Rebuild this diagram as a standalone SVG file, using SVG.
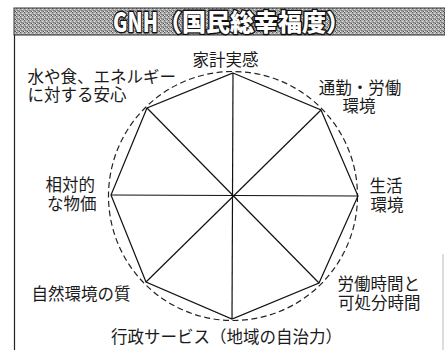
<svg xmlns="http://www.w3.org/2000/svg" width="445" height="350" viewBox="0 0 445 350">
<defs>
<pattern id="halftone" width="4" height="4" patternUnits="userSpaceOnUse">
<rect width="4" height="4" fill="#a8a8a8"/>
<rect x="0" y="0" width="1" height="1" fill="#5e5e5e"/>
<rect x="2" y="1" width="1" height="1" fill="#e2e2e2"/>
<rect x="1" y="2" width="1" height="1" fill="#747474"/>
<rect x="3" y="3" width="1" height="1" fill="#4e4e4e"/>
<rect x="3" y="0" width="1" height="1" fill="#d0d0d0"/>
<rect x="0" y="3" width="1" height="1" fill="#e6e6e6"/>
<rect x="2" y="2" width="1" height="1" fill="#8a8a8a"/>
</pattern>
<style>
.lbl{font-family:"Noto Sans CJK JP","Noto Sans",sans-serif;font-size:16.5px;fill:#1a1a1a;}
.mid{text-anchor:middle;}
.ttl{font-family:"Noto Sans CJK JP","Noto Sans",sans-serif;font-weight:900;fill:#ffffff;stroke:#111;stroke-width:2.8;paint-order:stroke;stroke-linejoin:round;}
.ln{fill:none;stroke:#111;stroke-width:1.2;}
.dash{fill:none;stroke:#222;stroke-width:1.2;stroke-dasharray:6 3.5;}
</style>
</defs>
<rect width="445" height="350" fill="#ffffff"/>
<g id="frame">
<rect x="14" y="8" width="431" height="27" fill="url(#halftone)" stroke="#333" stroke-width="1"/>
<line x1="14.5" y1="35" x2="14.5" y2="350" stroke="#222" stroke-width="1.2"/>
<line x1="443" y1="254" x2="443" y2="350" stroke="#bbb" stroke-width="1"/>
</g>
<g id="title">
<text class="ttl" x="113" y="32" font-size="26" textLength="45" lengthAdjust="spacingAndGlyphs">GNH</text>
<text class="ttl" x="158" y="31" font-size="24">（国民総幸福度）</text>
</g>
<g id="connectors">
<circle class="dash" cx="233" cy="196" r="124.5"/>
<polygon class="ln" points="233,73 321,110 358,196 319,283 232,319 146,282 111,195 147,108"/>
<line class="ln" x1="233" y1="73" x2="232" y2="319"/>
<line class="ln" x1="321" y1="110" x2="146" y2="282"/>
<line class="ln" x1="358" y1="196" x2="111" y2="195"/>
<line class="ln" x1="319" y1="283" x2="147" y2="108"/>
</g>
<g id="node-kakei"><text class="lbl" x="192.5" y="65.5">家計実感</text></g>
<g id="node-tsukin"><text class="lbl mid"><tspan x="360" y="93.5">通勤・労働</tspan><tspan x="359" y="112">環境</tspan></text></g>
<g id="node-seikatsu"><text class="lbl"><tspan x="369.5" y="192">生活</tspan><tspan x="370.5" y="211">環境</tspan></text></g>
<g id="node-rodo"><text class="lbl"><tspan x="337.5" y="290">労働時間と</tspan><tspan x="338" y="308.5">可処分時間</tspan></text></g>
<g id="node-gyosei"><text class="lbl" x="111" y="343">行政サービス（地域の自治力）</text></g>
<g id="node-shizen"><text class="lbl" x="31.5" y="300">自然環境の質</text></g>
<g id="node-bukka"><text class="lbl"><tspan x="45.5" y="191">相対的</tspan><tspan x="47" y="210">な物価</tspan></text></g>
<g id="node-anshin"><text class="lbl"><tspan x="27.5" y="82.5">水や食、エネルギー</tspan><tspan x="27.5" y="100.5">に対する安心</tspan></text></g>
</svg>
